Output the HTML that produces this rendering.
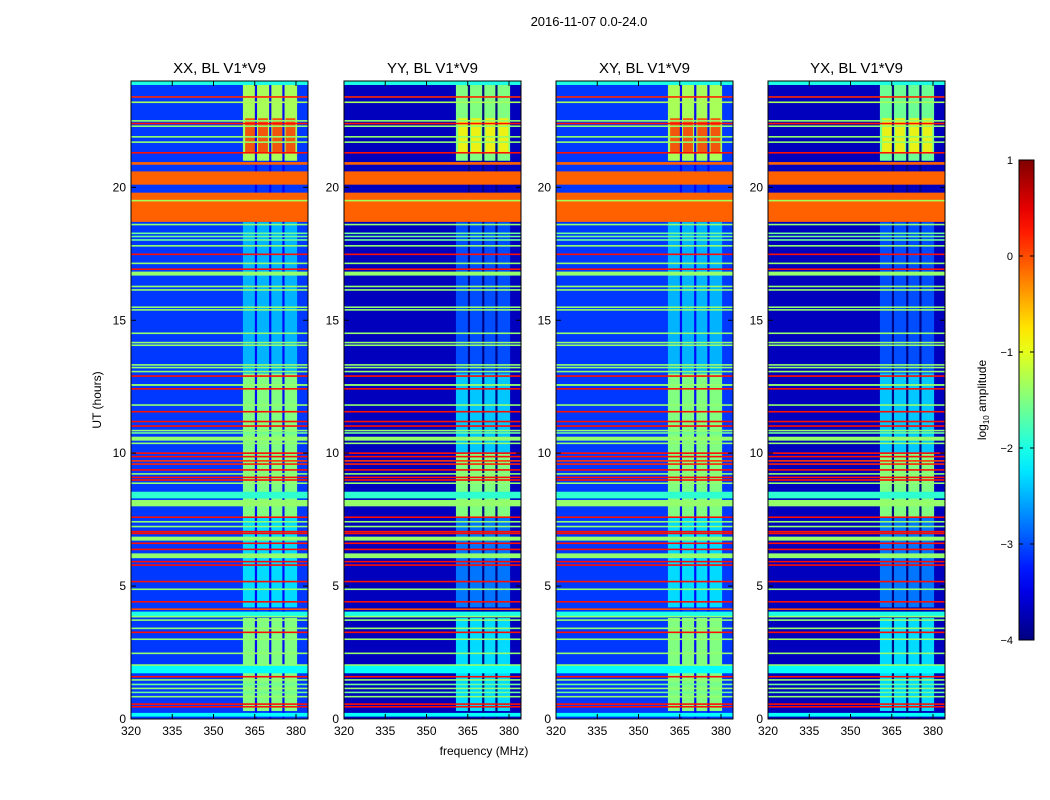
<!DOCTYPE html>
<html><head><meta charset="utf-8"><style>
body{margin:0;background:#fff;}
svg{display:block;font-family:"Liberation Sans",sans-serif;}
</style></head><body>
<svg id="c" width="1050" height="800"></svg>
<script>
// ---- data ----
const panelTitles=["XX, BL V1*V9","YY, BL V1*V9","XY, BL V1*V9","YX, BL V1*V9"];
const panelBackground=[-3.1,-3.7,-3.1,-3.7];
const xTicks=[320,335,350,365,380];
const yTicks=[0,5,10,15,20];
const cbTicks=[1,0,-1,-2,-3,-4];
// thick horizontal bands (hours, log10 amplitude)
const bandStart=[18.7,20.1,20.85,23.85,16.68,12.53,10.47,8.0,6.71,6.05,3.85,1.72,0.09,8.3];
const bandEnd  =[19.8,20.6,20.95,24.0,16.83,12.6,10.62,8.24,6.86,6.23,4.04,2.03,0.23,8.55];
const bandValue=[-0.1,-0.1,-0.1,-2.0,-1.4,-1.4,-1.4,-1.4,-1.4,-1.4,-2.0,-2.1,-2.1,-1.9];
// thin RFI lines
const lineHour=[23.4,23.2,22.5,22.4,22.3,21.9,21.7,21.3,19.5,18.6,18.27,18.15,18.02,17.8,17.48,17.14,16.92,16.27,16.14,15.49,15.39,14.51,14.16,14.06,13.32,13.22,13.07,12.9,12.42,11.81,11.56,11.19,11.02,10.85,10.76,10.37,10.0,9.87,9.71,9.59,9.37,9.22,9.09,8.99,8.87,7.59,7.42,7.24,7.05,6.98,6.61,6.38,5.92,5.79,5.17,4.88,4.41,4.13,3.85,3.72,3.41,3.26,3.0,2.47,2.03,1.59,1.47,1.3,1.15,1.0,0.84,0.56,0.46];
const lineValue=[0.2,-1.3,-1.4,0.3,-1.4,-1.4,-1.4,0.3,-1.3,-1.4,-1.6,-1.6,-1.6,-1.4,0.3,-1.4,0.3,-1.4,-1.4,-1.4,-1.4,-1.4,-1.4,-1.4,-1.4,-1.4,-1.4,0.3,0.3,-1.4,0.3,0.3,0.3,-1.4,-1.6,-1.4,0.3,0.3,0.1,0.2,0.3,-1.4,0.3,0.3,-1.4,0.3,-1.4,-1.4,0.3,0.3,0.3,0.3,0.3,0.3,0.3,-1.4,0.3,0.0,-1.4,-1.4,-1.4,0.3,-1.4,-1.4,-1.4,0.3,-1.4,-1.6,-1.4,-1.6,-1.4,0.3,0.3];
// broadband RFI block (360.7-380.4 MHz) per panel
const rfiStart=[[0.3,4.2,7.6,13,21],[0.3,4.2,7.6,10,13,21],[0.3,4.2,7.6,13,21],[0.3,4.2,7.6,10,13,21]];
const rfiEnd  =[[3.8,7.6,13,18.7,24],[3.8,7.6,10,13,18.7,24],[3.8,7.6,13,18.7,24],[3.8,7.6,10,13,18.7,24]];
const rfiValue=[[-1.5,-2.3,-1.5,-2.5,-1.3],[-2.3,-2.8,-1.5,-2.4,-3.0,-1.5],[-1.5,-2.3,-1.5,-2.5,-1.3],[-2.3,-2.8,-1.5,-2.4,-3.0,-1.6]];
const hotStart=[21.3,21.3,21.3,21.3];
const hotEnd=[22.6,22.6,22.6,22.6];
const hotValue=[0.1,-0.8,0.1,-0.8];
const gapFreq=[365.4,370.6,375.4];

// ---- layout ----
const panelX=[131,344,556,768], pw=177, topY=81, botY=719;
const NS="http://www.w3.org/2000/svg";
const svg=document.getElementById('c');
function el(t,a,p){const e=document.createElementNS(NS,t);for(const k in a)e.setAttribute(k,a[k]);(p||svg).appendChild(e);return e;}
function jet(v){let t=(v+4)/5;t=Math.max(0,Math.min(1,t));
 const f=x=>Math.round(255*Math.max(0,Math.min(1,x)));
 const r=f(Math.min(4*t-1.5,-4*t+4.5)),g=f(Math.min(4*t-0.5,-4*t+3.5)),b=f(Math.min(4*t+0.5,-4*t+2.5));
 return `rgb(${r},${g},${b})`;}
const yS=h=>botY-(h/24)*(botY-topY);
const xS=(x0,f)=>x0+(f-320)*2.75;

const sup=el('text',{x:589,y:26,'text-anchor':'middle','font-size':13},svg);sup.textContent='2016-11-07 0.0-24.0';



panelX.forEach((x0,p)=>{
 const g=el('g',{});
 
 
 el('rect',{x:x0,y:topY,width:pw,height:botY-topY,fill:jet(panelBackground[p])},g);
 rfiStart[p].forEach((s,i)=>{
  const r=el('rect',{x:xS(x0,360.7),y:yS(rfiEnd[p][i]),width:xS(x0,380.4)-xS(x0,360.7),height:yS(s)-yS(rfiEnd[p][i]),fill:jet(rfiValue[p][i])},g);
  
  
 });
 for(let k=0;k<4;k++){
  const f0=[361.5,366.2,371.4,376.2][k];
  const r=el('rect',{x:xS(x0,f0),y:yS(hotEnd[p]),width:3.6*2.75,height:yS(hotStart[p])-yS(hotEnd[p]),fill:jet(hotValue[p]),opacity:0.85},g);
  
  
 }
 gapFreq.forEach(f=>{
  const r=el('rect',{x:xS(x0,f)-1,y:topY,width:2.2,height:botY-topY,fill:jet(panelBackground[p]-0.3),opacity:0.95},g);
  
  
 });
 bandStart.forEach((s,i)=>{
  const r=el('rect',{x:x0,y:yS(bandEnd[i]),width:pw,height:yS(s)-yS(bandEnd[i]),fill:jet(bandValue[i])},g);
  
  
 });
 lineHour.forEach((h,i)=>{
  const r=el('rect',{x:x0,y:yS(h)-0.8,width:pw,height:1.6,fill:jet(lineValue[i])},g);
  
  
 });
 el('rect',{x:x0,y:topY,width:pw,height:botY-topY,fill:'none',stroke:'#000','stroke-width':1},g);
 const t=el('text',{x:x0+pw/2,y:73,'text-anchor':'middle','font-size':15},g);t.textContent=panelTitles[p];
 
 
 xTicks.forEach(v=>{const x=xS(x0,v);
  el('line',{x1:x,x2:x,y1:botY,y2:botY-5,stroke:'#000'},g);el('line',{x1:x,x2:x,y1:topY,y2:topY+5,stroke:'#000'},g);
  const l=el('text',{x:x,y:botY+16,'text-anchor':'middle','font-size':12},g);l.textContent=v;
  
  });
 yTicks.forEach(v=>{const y=yS(v);
  el('line',{x1:x0,x2:x0+5,y1:y,y2:y,stroke:'#000'},g);el('line',{x1:x0+pw,x2:x0+pw-5,y1:y,y2:y,stroke:'#000'},g);
  const l=el('text',{x:x0-5,y:y+4,'text-anchor':'end','font-size':12},g);l.textContent=v;
  
  });
});
const xl=el('text',{x:484,y:755,'text-anchor':'middle','font-size':12});xl.textContent='frequency (MHz)';


const yl=el('text',{x:101,y:400,'text-anchor':'middle','font-size':12,transform:'rotate(-90 101 400)'});yl.textContent='UT (hours)';



// colorbar
const defs=el('defs',{});const lg=el('linearGradient',{id:'jg',x1:0,y1:1,x2:0,y2:0},defs);
for(let i=0;i<=20;i++){el('stop',{offset:i/20,'stop-color':jet(-4+5*i/20)},lg);}
const cb=el('rect',{x:1019,y:160,width:15,height:480,fill:'url(#jg)',stroke:'#000'});


cbTicks.forEach(v=>{const y=640-(v+4)*96;
 el('line',{x1:1019,x2:1023,y1:y,y2:y,stroke:'#000'});el('line',{x1:1034,x2:1030,y1:y,y2:y,stroke:'#000'});
 const l=el('text',{x:1013,y:y+4,'text-anchor':'end','font-size':11});l.textContent=v<0?'\u2212'+(-v):v;
 
 });
const cl=el('text',{x:986,y:400,'text-anchor':'middle','font-size':12,transform:'rotate(-90 986 400)'});
cl.innerHTML='log<tspan font-size="8" dy="3">10</tspan><tspan dy="-3"> amplitude</tspan>';


</script>
</body></html>
